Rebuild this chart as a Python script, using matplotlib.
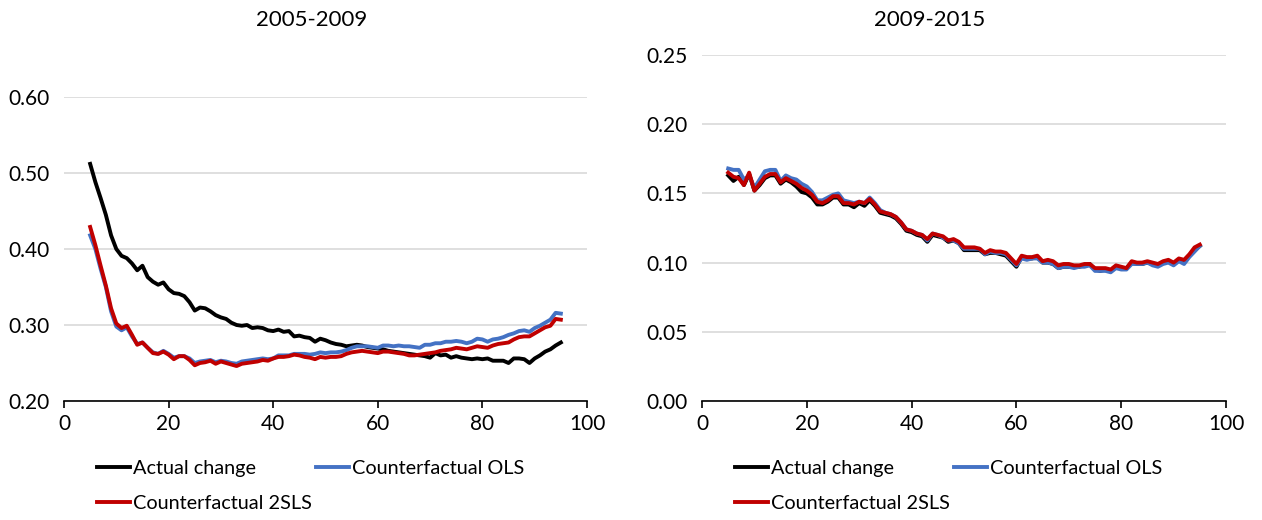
import matplotlib
matplotlib.use("Agg")
import matplotlib.pyplot as plt
from matplotlib.ticker import FormatStrFormatter

plt.rcParams['font.family'] = ['Lato', 'DejaVu Sans']

# percentile on x axis
pct = list(range(5, 96))

# 2005-2009
actual_0509 = [.512, .488, .467, .445, .418, .400, .391, .388, .381, .372,
               .378, .363, .357, .353, .356, .347, .342, .341, .338, .330,
               .319, .323, .322, .318, .313, .310, .308, .303, .300, .299,
               .300, .296, .297, .296, .293, .292, .294, .291, .292, .285,
               .286, .284, .283, .278, .282, .280, .277, .275, .274, .272,
               .273, .274, .273, .271, .270, .269, .268, .266, .265, .264,
               .263, .262, .261, .260, .259, .257, .263, .260, .261, .257,
               .259, .257, .256, .255, .256, .255, .256, .253, .253, .253,
               .250, .256, .256, .255, .250, .256, .260, .265, .268, .273,
               .277]
ols_0509 = [.418, .400, .374, .350, .318, .298, .293, .297, .285, .275,
            .277, .270, .264, .262, .266, .262, .257, .259, .259, .256,
            .250, .252, .253, .254, .251, .253, .252, .250, .249, .252,
            .253, .254, .255, .256, .255, .256, .260, .260, .260, .262,
            .262, .262, .261, .262, .264, .263, .264, .264, .265, .267,
            .270, .272, .272, .272, .271, .270, .273, .273, .272, .273,
            .272, .272, .271, .270, .274, .274, .276, .276, .278, .278,
            .279, .278, .276, .278, .282, .281, .278, .281, .282, .284,
            .287, .289, .292, .293, .291, .296, .299, .303, .307, .316,
            .315]
tsls_0509 = [.429, .405, .378, .352, .322, .302, .296, .299, .287, .274,
             .277, .270, .263, .262, .265, .261, .255, .259, .259, .254,
             .247, .250, .251, .253, .249, .252, .250, .248, .246, .249,
             .250, .251, .252, .254, .253, .256, .258, .258, .259, .261,
             .260, .258, .257, .255, .258, .257, .258, .258, .259, .262,
             .264, .265, .266, .265, .264, .263, .265, .265, .264, .263,
             .262, .260, .260, .261, .262, .263, .264, .266, .267, .268,
             .270, .269, .268, .270, .272, .271, .270, .273, .275, .276,
             .277, .281, .284, .285, .285, .289, .293, .297, .299, .308,
             .307]

# 2009-2015
actual_0915 = [.163, .159, .162, .156, .164, .152, .156, .161, .163, .163,
               .157, .160, .158, .155, .151, .150, .147, .142, .142, .144,
               .147, .147, .142, .142, .140, .143, .141, .145, .141, .136,
               .135, .134, .132, .128, .123, .122, .120, .119, .115, .120,
               .119, .118, .115, .116, .114, .109, .109, .109, .109, .106,
               .107, .107, .106, .105, .101, .097, .104, .103, .103, .104,
               .100, .100, .099, .096, .097, .097, .097, .097, .098, .099,
               .095, .094, .095, .094, .097, .096, .096, .100, .099, .099,
               .100, .099, .098, .100, .101, .099, .102, .101, .105, .109,
               .112]
ols_0915 = [.168, .167, .167, .160, .163, .154, .160, .166, .167, .167,
            .159, .163, .161, .160, .157, .155, .151, .145, .145, .147,
            .149, .150, .145, .144, .143, .144, .143, .147, .143, .138,
            .136, .135, .133, .129, .124, .123, .121, .120, .116, .121,
            .120, .118, .116, .116, .114, .110, .110, .110, .110, .106,
            .108, .107, .107, .106, .102, .098, .103, .102, .103, .103,
            .100, .100, .099, .096, .097, .097, .096, .097, .097, .098,
            .094, .094, .094, .093, .096, .095, .095, .099, .099, .099,
            .100, .098, .097, .099, .100, .098, .101, .099, .104, .108,
            .112]
tsls_0915 = [.165, .162, .161, .156, .165, .152, .157, .162, .164, .164,
             .158, .161, .159, .157, .154, .152, .149, .144, .143, .145,
             .148, .148, .143, .143, .142, .144, .143, .146, .142, .137,
             .136, .135, .133, .129, .124, .123, .121, .120, .117, .121,
             .120, .119, .116, .117, .115, .111, .111, .111, .110, .107,
             .109, .108, .108, .107, .103, .099, .105, .104, .104, .105,
             .101, .102, .101, .098, .099, .099, .098, .098, .099, .099,
             .096, .096, .096, .095, .098, .097, .096, .101, .100, .100,
             .101, .100, .099, .101, .102, .100, .103, .102, .106, .111,
             .113]

labels = ['Actual change', 'Counterfactual OLS', 'Counterfactual 2SLS']
colors = ['#000000', '#4472C4', '#C00000']

W, H = 1262, 520
fig = plt.figure(figsize=(W / 100, H / 100), dpi=100)

ax1 = fig.add_axes([64 / W, 1 - 401 / H, 523 / W, (401 - 97) / H])
ax2 = fig.add_axes([702 / W, 1 - 401 / H, 524 / W, (401 - 55) / H])

panels = [
    (ax1, [actual_0509, ols_0509, tsls_0509], (0.2, 0.6), [0.2, 0.3, 0.4, 0.5, 0.6]),
    (ax2, [actual_0915, ols_0915, tsls_0915], (0.0, 0.25), [0, 0.05, 0.10, 0.15, 0.20, 0.25]),
]

for ax, series, ylim, yt in panels:
    for s, c, lab in zip(series, colors, labels):
        ax.plot(pct, s, color=c, lw=2.8, label=lab, solid_joinstyle='round')
    ax.set_xlim(0, 100)
    ax.set_ylim(*ylim)
    ax.set_xticks([0, 20, 40, 60, 80, 100])
    ax.set_yticks(yt)
    ax.yaxis.set_major_formatter(FormatStrFormatter('%.2f'))
    ax.grid(axis='y', color='#D9D9D9', lw=1.2)
    ax.set_axisbelow(True)
    for side in ['top', 'right', 'left']:
        ax.spines[side].set_visible(False)
    ax.spines['bottom'].set_color('#000000')
    ax.spines['bottom'].set_linewidth(1.2)
    ax.tick_params(axis='x', direction='out', length=5, width=1.2, labelsize=15, pad=4)
    ax.tick_params(axis='y', length=0, labelsize=15, pad=10)

fig.text(312 / W, 1 - 20 / H, '2005-2009', ha='center', va='center', fontsize=16)
fig.text(930 / W, 1 - 20 / H, '2009-2015', ha='center', va='center', fontsize=16)

# legend rows: Actual / OLS on the first row, 2SLS below
for ax, x0 in [(ax1, 97), (ax2, 735)]:
    h, l = ax.get_legend_handles_labels()
    order = [0, 2, 1]
    fig.legend([h[i] for i in order], [l[i] for i in order], loc='upper left',
               bbox_to_anchor=(x0 / W, 1 - 460 / H),
               ncol=2, frameon=False, fontsize=14.3, borderpad=0, borderaxespad=0,
               handlelength=1.66, handletextpad=0.15, columnspacing=0.2,
               labelspacing=0.92)

fig.savefig('out.png', dpi=100)
